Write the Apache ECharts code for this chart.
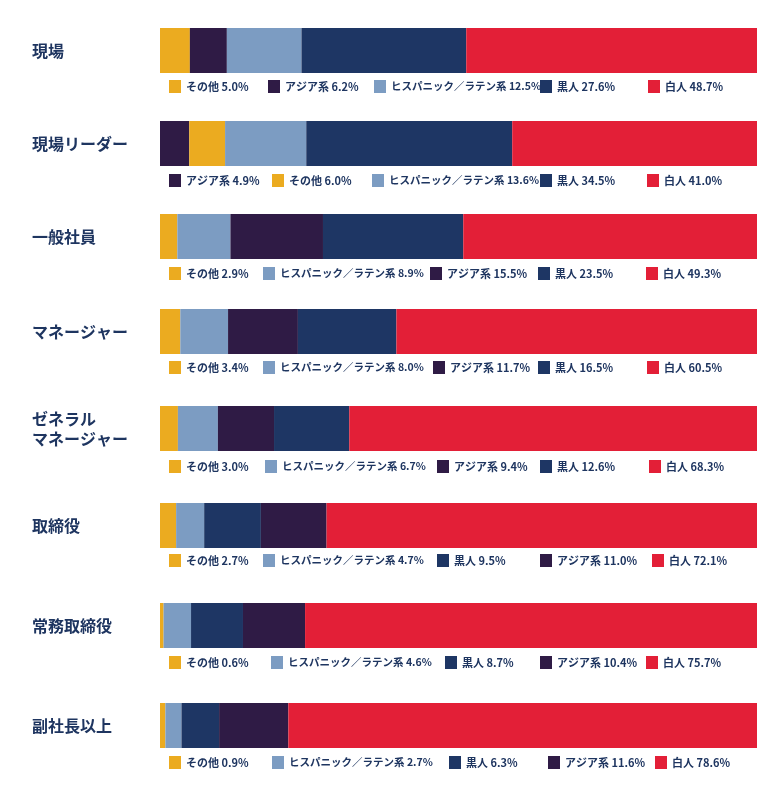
<!DOCTYPE html>
<html><head><meta charset="utf-8">
<script src="https://cdn.jsdelivr.net/npm/echarts@6/dist/echarts.min.js"></script>
<style>html,body{margin:0;padding:0;background:#fff}#c{width:779px;height:800px}</style>
</head><body><div id="c"></div>
<script>
// ---- data ----
const rowLabels = ['現場','現場リーダー','一般社員','マネージャー','ゼネラル\nマネージャー','取締役','常務取締役','副社長以上'];
const segGroups = [
  ['その他','アジア系','ヒスパニック／ラテン系','黒人','白人'],
  ['アジア系','その他','ヒスパニック／ラテン系','黒人','白人'],
  ['その他','ヒスパニック／ラテン系','アジア系','黒人','白人'],
  ['その他','ヒスパニック／ラテン系','アジア系','黒人','白人'],
  ['その他','ヒスパニック／ラテン系','アジア系','黒人','白人'],
  ['その他','ヒスパニック／ラテン系','黒人','アジア系','白人'],
  ['その他','ヒスパニック／ラテン系','黒人','アジア系','白人'],
  ['その他','ヒスパニック／ラテン系','黒人','アジア系','白人']
];
const segValues = [
  [5.0, 6.2, 12.5, 27.6, 48.7],
  [4.9, 6.0, 13.6, 34.5, 41.0],
  [2.9, 8.9, 15.5, 23.5, 49.3],
  [3.4, 8.0, 11.7, 16.5, 60.5],
  [3.0, 6.7, 9.4, 12.6, 68.3],
  [2.7, 4.7, 9.5, 11.0, 72.1],
  [0.6, 4.6, 8.7, 10.4, 75.7],
  [0.9, 2.7, 6.3, 11.6, 78.6]
];

// ---- styles / layout ----
const colors = {'その他':'#EBAB20','アジア系':'#2F1B45','ヒスパニック／ラテン系':'#7C9CC2','黒人':'#1E3664','白人':'#E31F37'};
const barTops = [28,121,214,309,406,503,603,703];
const labelShift = [-3,-3,-4,0,4,3,-4,0];
const legendTops = [80,174,267,361,460,554,656,756];
const legendLefts = [
  [169,268,374,540,648],
  [169,272,372,540,647],
  [169,263,430,538,646],
  [169,263,433,538,647],
  [169,265,437,540,649],
  [169,263,437,540,652],
  [169,271,445,540,646],
  [169,272,449,548,655]
];
const FONT = '"Noto Sans CJK JP","Noto Sans",sans-serif';
const textColor = '#1E3560';

const grid=[], xAxis=[], yAxis=[], series=[], legend=[];
rowLabels.forEach((lab,i)=>{
  grid.push({left:160, width:597, top:barTops[i], height:45});
  xAxis.push({type:'value', gridIndex:i, min:0, max:100, show:false});
  const s = labelShift[i];
  yAxis.push({type:'category', gridIndex:i, data:[lab], axisLine:{show:false}, axisTick:{show:false},
    axisLabel:{align:'left', margin:128, fontFamily:FONT, fontWeight:'bold', fontSize:16, color:textColor, lineHeight:20,
      padding: s<0 ? [0,0,-2*s,0] : [2*s,0,0,0]}});
  segGroups[i].forEach((g,j)=>{
    const nm = g + ' ' + segValues[i][j].toFixed(1) + '%';
    series.push({type:'bar', name:nm, xAxisIndex:i, yAxisIndex:i, stack:'s'+i, barWidth:45,
      data:[segValues[i][j]], itemStyle:{color:colors[g]}, silent:true, emphasis:{disabled:true}});
    legend.push({data:[nm], left:legendLefts[i][j], top:legendTops[i], padding:0, itemWidth:12, itemHeight:13,
      icon:'rect', selectedMode:false,
      textStyle:{fontFamily:FONT, fontWeight:'bold', fontSize: g.length>5 ? 10.5 : 11, color:textColor}});
  });
});

const chart = echarts.init(document.getElementById('c'), null, {renderer:'canvas'});
chart.setOption({animation:false, grid, xAxis, yAxis, series, legend});
</script></body></html>
